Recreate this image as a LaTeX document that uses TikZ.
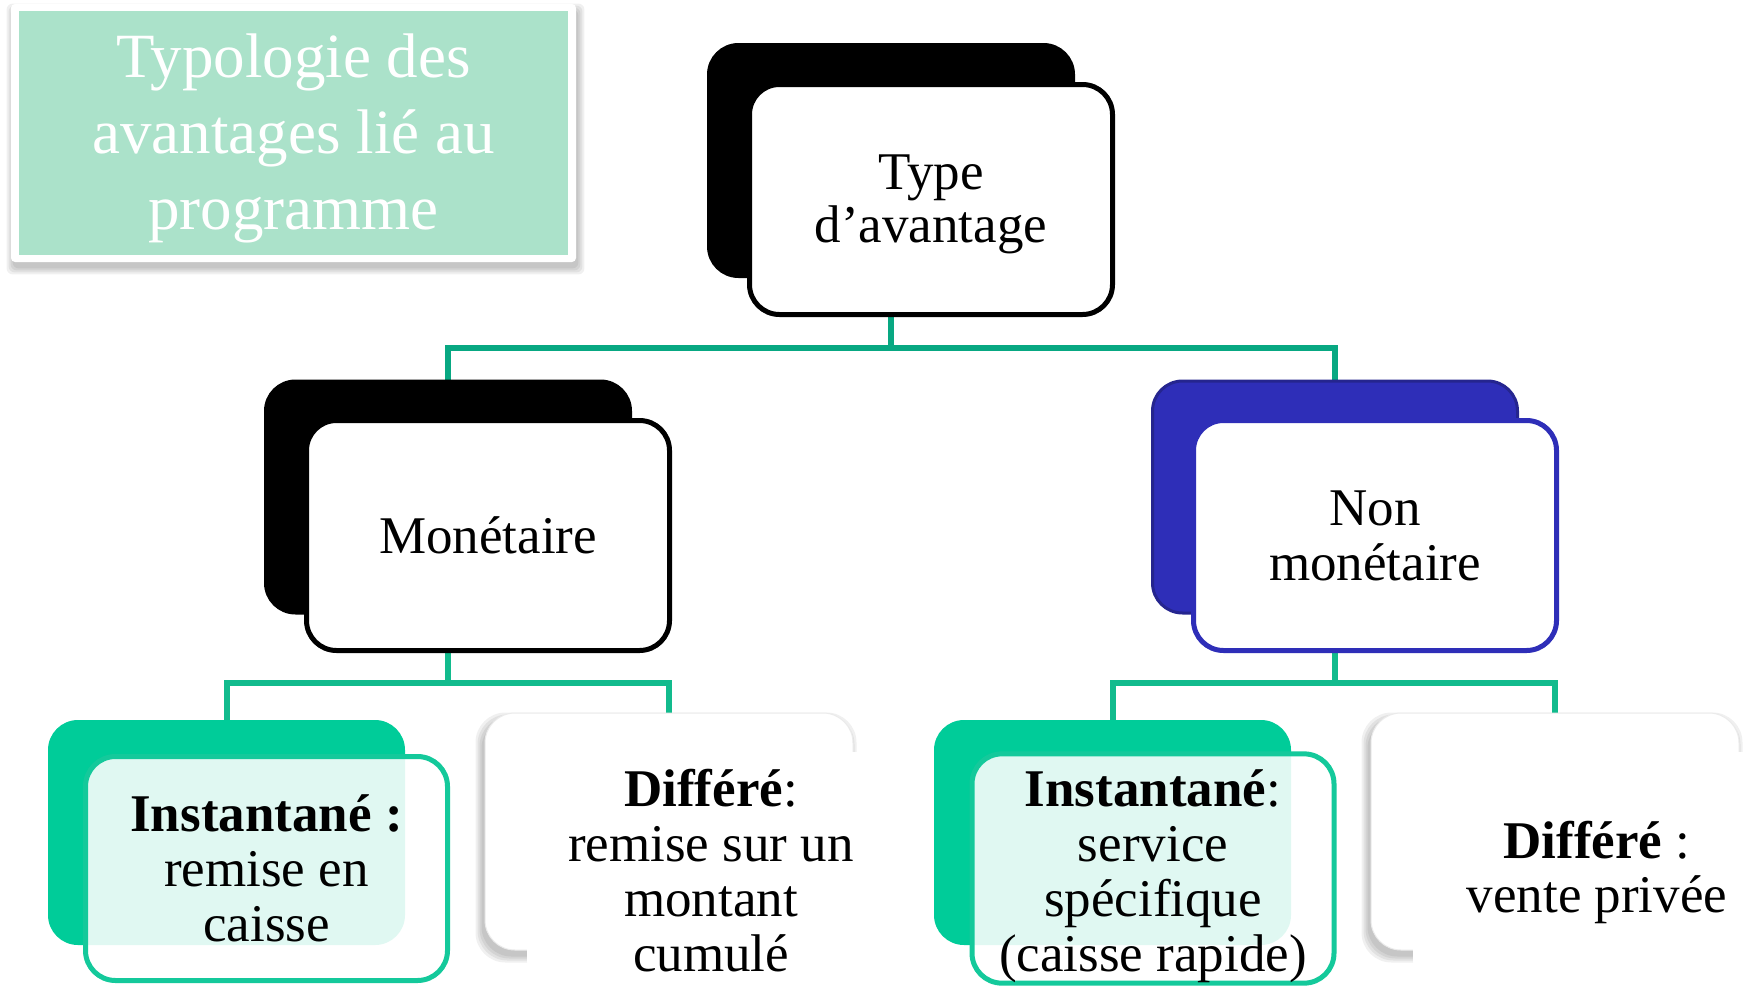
\documentclass[tikz,border=0pt]{standalone}
\usepackage{fontspec}
\setmainfont{Liberation Serif}
\usetikzlibrary{calc,backgrounds}
\definecolor{titlegreen}{HTML}{ABE2CA}
\definecolor{conntopc}{HTML}{08A882}
\definecolor{connbotc}{HTML}{12BB8D}
\definecolor{instgreen}{HTML}{00CC99}
\definecolor{instborder}{HTML}{14C99B}
\definecolor{nmblue}{HTML}{2E2EB8}
\definecolor{nmblued}{HTML}{25258F}
\newcommand\myshadow[3]{%
  \foreach \e in {6,4,2,0}{%
    \fill[black,opacity=0.06,rounded corners=15pt]
      ($(#1.north west)+(#2-\e,#3-\e)$) rectangle ($(#1.south east)+(#2+\e,#3+\e)$);
  }%
}
\tikzset{
  bigback/.style={rounded corners=15pt, inner sep=0pt, minimum width=182.5pt, minimum height=116pt, line width=1.5pt},
  bigfront/.style={rounded corners=15pt, inner sep=0pt, minimum width=181.5pt, minimum height=115pt, line width=2.5pt, fill=white, align=center, font=\fontsize{26.5pt}{27.5pt}\selectfont},
  smallback/.style={rounded corners=15pt, inner sep=0pt, minimum width=178.5pt, minimum height=112.5pt, fill=instgreen},
  smallfront/.style={rounded corners=15pt, inner sep=0pt, minimum width=181pt, minimum height=112pt, line width=2.5pt, draw=instborder, fill=white, fill opacity=0.88, text opacity=1, align=center, font=\fontsize{26.5pt}{27.5pt}\selectfont},
  whiteback/.style={rounded corners=15pt, inner sep=0pt, minimum width=184pt, minimum height=118.5pt, fill=white, draw=black!8, line width=0.5pt},
  whitefront/.style={rounded corners=15pt, inner sep=0pt, minimum width=184pt, minimum height=118.5pt, fill=white, align=center, font=\fontsize{26.5pt}{27.5pt}\selectfont},
  connlevelone/.style={draw=conntopc, line width=3pt},
  conntwo/.style={draw=connbotc, line width=3pt},
}
\begin{document}
\begin{tikzpicture}[x=0.5pt,y=-0.5pt]
\useasboundingbox (0,0) rectangle (1750,985);

% title
\node[fill=white, rounded corners=2pt, minimum width=282.5pt, minimum height=129pt, inner sep=0pt] (tbox) at (293.5,133) {};
\node[fill=titlegreen, minimum width=274.5pt, minimum height=122pt, inner sep=0pt] (tgreen) at (293.5,133) {};
\node[text=white, align=center, font=\fontsize{31.5pt}{38pt}\selectfont, inner sep=0pt] (ttext) at (293.5,138) {Typologie des\\avantages lié au\\programme};

% level 1
\node[bigback, fill=black, draw=black] (tback) at (891,160.5) {};
\node[bigfront, draw=black, font=\fontsize{26.5pt}{26.5pt}\selectfont] (tfront) at (931,199.5) {\rule{0pt}{22.5pt}Type\\d’avantage};

% level 2
\node[bigback, fill=black, draw=black] (mback) at (448,497) {};
\node[bigfront, draw=black] (mfront) at (488,535.5) {Monétaire};
\node[bigback, fill=nmblue, draw=nmblued] (nback) at (1335,497) {};
\node[bigfront, draw=nmblue] (nfront) at (1375,535.5) {Non\\monétaire};

% level 3
\node[smallback] (ib1) at (226.5,832.5) {};
\node[smallfront] (if1) at (266.5,868.5) {\textbf{Instantané :}\\remise en\\caisse};
\node[whiteback] (db1) at (669,831.5) {};
\node[whitefront] (df1) at (711,870.5) {\textbf{Différé}:\\remise sur un\\montant\\cumulé};
\node[smallback] (ib2) at (1112.5,832.5) {};
\node[smallfront] (if2) at (1153,868.5) {\rule{0pt}{26.5pt}\textbf{Instantané}:\\service\\spécifique\\(caisse rapide)};
\node[whiteback] (db2) at (1555,831.5) {};
\node[whitefront, font=\fontsize{26.5pt}{27pt}\selectfont] (df2) at (1597,870.5) {\rule{0pt}{21pt}\textbf{Différé} :\\vente privée};

\begin{scope}[on background layer]
  \fill[white] (0,0) rectangle (1750,985);
  \foreach \e in {6,4,2,0}{%
    \fill[black,opacity=0.06,rounded corners=3pt]
      ($(tbox.north west)+(2-\e,6-\e)$) rectangle ($(tbox.south east)+(2+\e,6+\e)$);
  }
  \myshadow{db1}{-3}{6}
  \myshadow{db2}{-3}{6}
  \draw[connlevelone] (tback.south) -- ++(0,70) -| (mback.north);
  \draw[connlevelone] (tback.south) -- ++(0,70) -| (nback.north);
  \draw[conntwo] (mback.south) -- ++(0,68) -| (ib1.north);
  \draw[conntwo] (mback.south) -- ++(0,68) -| (db1.north);
  \draw[conntwo] (nback.south) -- ++(0,68) -| (ib2.north);
  \draw[conntwo] (nback.south) -- ++(0,68) -| (db2.north);
\end{scope}
\end{tikzpicture}
\end{document}
